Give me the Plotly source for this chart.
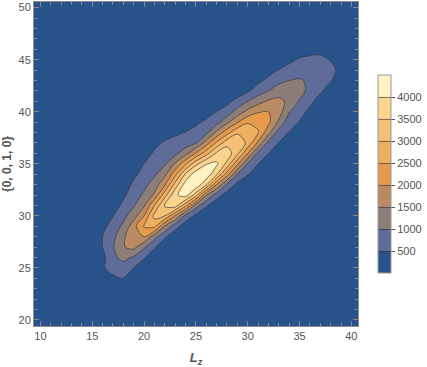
import plotly.graph_objects as go

# grid of the density surface, x = 10..40, y = 20..50
x_vals = list(range(10, 41))
y_vals = list(range(20, 51))

# nonzero part of each row: y -> (first x, values)
row_y = [23, 24, 25, 26, 27, 28, 29, 30, 31, 32, 33, 34, 35, 36, 37, 38, 39, 40, 41, 42, 43, 44, 45, 46, 47]
row_x0 = [15, 14, 14, 15, 16, 15, 15, 16, 16, 17, 18, 18, 19, 19, 20, 21, 22, 25, 27, 28, 30, 31, 32, 34, 36]
row_vals = [
    [50, 75, 50, 50],
    [20, 170, 350, 400, 510, 100],
    [40, 200, 440, 700, 750, 500, 125],
    [115, 350, 885, 1150, 925, 550, 150],
    [500, 950, 1465, 1650, 1075, 550, 150],
    [125, 500, 850, 1400, 1990, 2000, 1200, 580, 175],
    [50, 325, 750, 1100, 1800, 2560, 2650, 1450, 700, 225],
    [100, 475, 850, 1275, 2000, 3165, 3000, 1975, 850, 375, 100],
    [25, 250, 625, 950, 1425, 2500, 3575, 3800, 2650, 1250, 575, 150],
    [100, 400, 775, 1080, 1600, 2800, 3900, 4250, 3250, 1550, 725, 300],
    [225, 600, 875, 1200, 1925, 3200, 4225, 4400, 3575, 2000, 900, 350],
    [80, 375, 700, 925, 1350, 2325, 3550, 4300, 4350, 3575, 2250, 1000, 550, 25],
    [200, 500, 800, 925, 1550, 2400, 3350, 3975, 4100, 3375, 2100, 950, 520, 50],
    [50, 300, 565, 770, 850, 1300, 2050, 2800, 3600, 3800, 3125, 2000, 875, 500, 50],
    [125, 380, 560, 700, 760, 950, 1750, 2600, 3325, 3400, 2875, 1900, 825, 480, 50],
    [115, 300, 395, 520, 700, 850, 1600, 2300, 2925, 3000, 2525, 1650, 750, 480, 50],
    [40, 50, 175, 380, 625, 800, 1375, 1950, 2425, 2420, 2125, 1400, 675, 480, 25],
    [50, 200, 510, 700, 1200, 1650, 1950, 2000, 1725, 1050, 650, 400],
    [150, 375, 650, 1000, 1300, 1575, 1620, 1400, 950, 615, 300],
    [50, 200, 420, 765, 1000, 1275, 1330, 1180, 850, 565, 300],
    [100, 380, 630, 850, 1000, 1050, 920, 700, 525, 300],
    [75, 300, 525, 650, 750, 750, 700, 600, 400, 200],
    [25, 200, 400, 560, 575, 580, 480, 380, 200],
    [80, 215, 380, 400, 380, 265, 150],
    [50, 100, 125, 100, 75],
]

levels_start, levels_end, levels_step = 500, 4000, 500
colorbar_range = [0, 4500]
band_colors = ["#27538a", "#5f6b99", "#8b7e79", "#ba8b62", "#e59b4b",
               "#edb063", "#f4c176", "#fbd48d", "#fff3c3"]

# build the z table for the library
z = [[0 for _ in x_vals] for _ in y_vals]
for yy, x0, vals in zip(row_y, row_x0, row_vals):
    for i, v in enumerate(vals):
        xx = x0 + i
        if x_vals[0] <= xx <= x_vals[-1]:
            z[y_vals.index(yy)][x_vals.index(xx)] = v

n = len(band_colors)
colorscale = [[i / (n - 1), c] for i, c in enumerate(band_colors)]

FONT = "Liberation Sans"

fig = go.Figure(go.Contour(
    x=x_vals, y=y_vals, z=z,
    zmin=colorbar_range[0], zmax=colorbar_range[1],
    autocontour=False,
    contours=dict(start=levels_start, end=levels_end, size=levels_step, coloring="fill"),
    colorscale=colorscale,
    line=dict(color="rgba(55,55,55,0.75)", width=0.9, smoothing=0.9),
    colorbar=dict(
        x=1.0617, xanchor="left", xpad=0,
        y=0.469, yanchor="middle", ypad=0,
        len=198 / 324, lenmode="fraction",
        thickness=13, thicknessmode="pixels",
        outlinecolor="#999999", outlinewidth=1,
        tickvals=[500, 1000, 1500, 2000, 2500, 3000, 3500, 4000],
        ticks="outside", ticklen=4, tickcolor="#555555",
        tickfont=dict(family=FONT, size=11, color="#555555"),
    ),
    hoverinfo="skip",
))

axis_common = dict(
    showgrid=False, zeroline=False,
    showline=True, linecolor="#8a8a8a", linewidth=1, mirror="ticks",
    ticks="inside", ticklen=5, tickcolor="#8a8a8a", tickwidth=1,
    tickfont=dict(family=FONT, size=11, color="#555555"),
    minor=dict(ticks="inside", ticklen=3, tickcolor="#8a8a8a", dtick=1, showgrid=False),
)

fig.update_xaxes(range=[9.38, 40.64], tickvals=[10, 15, 20, 25, 30, 35, 40],
                 title=dict(text="<b><i>L</i></b><sub><b><i>z</i></b></sub>",
                            font=dict(family=FONT, size=13, color="#555555"), standoff=13),
                 **axis_common)
fig.update_yaxes(range=[19.42, 50.54], tickvals=[20, 25, 30, 35, 40, 45, 50],
                 title=dict(text="<b>{0, 0, 1, 0}</b>",
                            font=dict(family=FONT, size=12, color="#555555"), standoff=4),
                 **axis_common)

fig.update_layout(
    width=427, height=367,
    margin=dict(l=34, r=69, t=2, b=41),
    paper_bgcolor="white", plot_bgcolor=band_colors[0],
    showlegend=False,
)

fig.write_html("out.html")
